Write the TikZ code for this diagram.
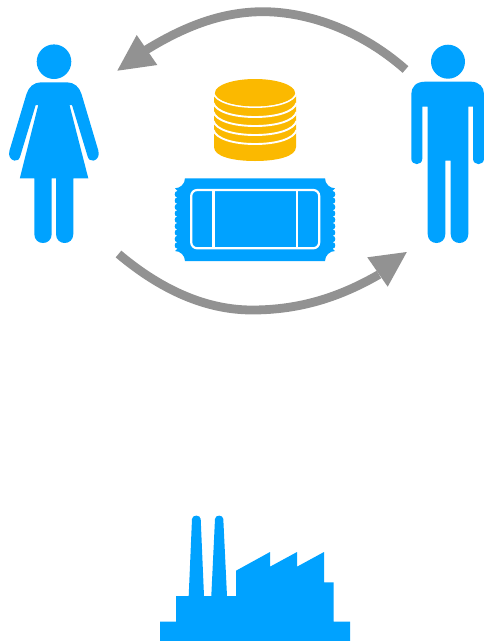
\documentclass[tikz,border=0pt]{standalone}
\definecolor{iconblue}{HTML}{00A2FF}
\definecolor{coingold}{HTML}{FBB900}
\definecolor{arrowgrey}{HTML}{929292}
\tikzset{
  icon/.style={fill=iconblue,draw=none},
  coin/.style={fill=coingold,draw=none},
  coinline/.style={draw=white,line width=1.9pt},
  ticketline/.style={draw=white,line width=2.2pt},
  shaft/.style={draw=arrowgrey,line width=8.8pt},
  tip/.style={fill=arrowgrey,draw=none},
}
\begin{document}
\begin{tikzpicture}[x=1pt,y=-1pt]
\useasboundingbox (0,0) rectangle (484,641);
% named arrow ends
\coordinate (topstart) at (405.5,69.5);
\coordinate (topbase) at (146,50);
\coordinate (toptip) at (117.3,70.7);
\coordinate (botstart) at (118.5,254);
\coordinate (botbase) at (379,274.5);
\coordinate (bottip) at (406.8,252);
% woman
\fill[icon] (54,61.7) circle (17.3);
\fill[icon] (41,82.3) -- (67,82.3) .. controls (74,82.3) and (79.5,87) .. (81.5,94)
  -- (98.3,150.5) .. controls (99.8,155.5) and (97.5,159.8) .. (93.5,160.6)
  .. controls (90.5,161.2) and (88.5,159.5) .. (87.5,156)
  -- (72,105) -- (69.5,105) -- (88.3,178.3) -- (73.3,178.3) -- (73.3,234)
  .. controls (73.3,246) and (56,246) .. (56,234) -- (56,178.3) -- (51.7,178.3) -- (51.7,234)
  .. controls (51.7,246) and (34.3,246) .. (34.3,234) -- (34.3,178.3) -- (19.8,178.3)
  -- (38.3,105) -- (35.7,105) -- (20.3,156)
  .. controls (19.3,159.5) and (17.3,161.2) .. (14.3,160.6)
  .. controls (10.3,159.8) and (8,155.5) .. (9.5,150.5)
  -- (26.5,94) .. controls (28.5,87) and (34,82.3) .. (41,82.3) -- cycle;
% man
\fill[icon] (448,61.7) circle (17);
\fill[icon] (425,81.7) -- (471,81.7) .. controls (479,81.7) and (484,87) .. (484,94)
  -- (484,158.5) .. controls (484,166) and (473,166) .. (473,158.5)
  -- (473,106.7) -- (468.3,106.7) -- (468.3,234)
  .. controls (468.3,246) and (450.7,246) .. (450.7,234) -- (450.7,160.7) -- (445.3,160.7) -- (445.3,234)
  .. controls (445.3,246) and (427.7,246) .. (427.7,234) -- (427.7,106.7) -- (422.3,106.7) -- (422.3,158.5)
  .. controls (422.3,166) and (411.3,166) .. (411.3,158.5)
  -- (411.3,94) .. controls (411.3,87) and (416,81.7) .. (425,81.7) -- cycle;
% coins
\fill[coin] (214,93) -- (214,147) .. controls (214,156.5) and (233,161) .. (255,161)
  .. controls (277,161) and (296,156.5) .. (296,147) -- (296,93) -- cycle;
\foreach \yy in {93,103,112,121,130} {
  \draw[coinline] (213.5,\yy) .. controls (216,\yy+9) and (234,\yy+14) .. (255,\yy+14)
    .. controls (276,\yy+14) and (294,\yy+9) .. (296.5,\yy);
}
\fill[coin] (255,92.7) ellipse (40 and 13.7);
% ticket
\fill[icon] (185,178.3) -- (325,178.3) .. controls (325,184) and (330,188.3) .. (335,188.3)
  -- (332.5,191)
  \foreach \k in {0,...,8} { .. controls (336.2,190.6+6.4*\k) and (336.2,197.8+6.4*\k) .. (332.5,197.4+6.4*\k) }
  -- (335,251) .. controls (330,251) and (325,255.3) .. (325,261)
  -- (185,261) .. controls (185,255.3) and (180,251) .. (175,251)
  -- (177.5,248.6)
  \foreach \k in {0,...,8} { .. controls (173.8,249-6.4*\k) and (173.8,241.8-6.4*\k) .. (177.5,242.2-6.4*\k) }
  -- (175,188.3) .. controls (180,188.3) and (185,184) .. (185,178.3) -- cycle;
\draw[ticketline,rounded corners=6pt] (191.2,190) rectangle (319.2,248.3);
\draw[ticketline] (213.5,190) -- (213.5,248.3);
\draw[ticketline] (297.3,190) -- (297.3,248.3);
% factory
\fill[icon] (160,641) -- (160,621.7) -- (176,621.7) -- (176,596) -- (188.7,596) -- (192,519)
  .. controls (192.2,514.5) and (200.5,514.5) .. (200.7,519) -- (204,596) -- (211.3,596) -- (215,519)
  .. controls (215.2,514.5) and (223.1,514.5) .. (223.3,519) -- (227,596) -- (236,596) -- (236,570.7)
  -- (270,552) -- (270,566.7) -- (297,552) -- (297,566.7) -- (324,552) -- (324,582.3)
  -- (333.7,582.3) -- (333.7,621.7) -- (350,621.7) -- (350,641) -- cycle;
% arrows
\draw[shaft] (topstart) .. controls (355,25) and (300,11.5) .. (262,11.7)
  .. controls (222,12) and (185,26) .. (topbase);
\fill[tip] (toptip) -- (136.7,35) -- (157.3,65) -- cycle;
\draw[shaft] (botstart) .. controls (160,289) and (205,310) .. (252,310)
  .. controls (300,310) and (340,297) .. (botbase);
\fill[tip] (bottip) -- (367.3,257.3) -- (387.7,286.7) -- cycle;
\end{tikzpicture}
\end{document}
